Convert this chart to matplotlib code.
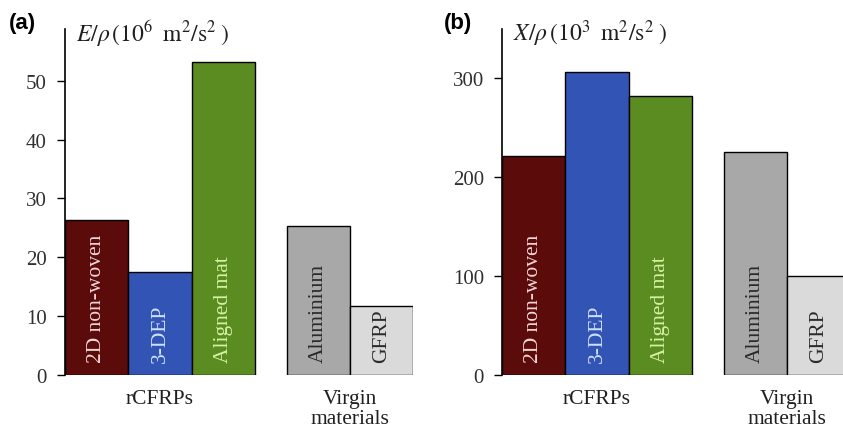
import matplotlib.pyplot as plt
from matplotlib.transforms import blended_transform_factory

plt.rcParams['font.family'] = 'Liberation Serif'
plt.rcParams['mathtext.fontset'] = 'stix'

# Data
materials = ['2D non-woven', '3-DEP', 'Aligned mat', 'Aluminium', 'GFRP']
positions = [0.5, 1.5, 2.5, 4.0, 5.0]
modulus = [26.3, 17.5, 53.2, 25.4, 11.7]      # E/rho, 10^6 m2/s2
strength = [222, 306, 282, 226, 100]         # X/rho, 10^3 m2/s2
groups = ['rCFRPs', 'Virgin\nmaterials']
group_pos = [1.5, 4.5]

bar_colors = ['#5c0b0b', '#3254b4', '#5b8c22', '#a8a8a8', '#dadada']
text_colors = ['#f2d6d6', '#cfe0ff', '#d6f2a4', '#2a2a2a', '#2a2a2a']

fig = plt.figure(figsize=(8.43, 4.35), dpi=100)
W, H = 843, 435
ax_a = fig.add_axes([65 / W, 59 / H, 348 / W, 346 / H])
ax_b = fig.add_axes([502 / W, 59 / H, 341 / W, 346 / H])


def draw(ax, values, ymax, ticks, ylabel, tag, tag_x, label_base):
    ax.bar(positions, values, width=1.0, color=bar_colors,
           edgecolor='black', linewidth=1.0)
    ax.set_xlim(0, ax.get_position().width * W / 63.3)
    ax.set_ylim(0, ymax)
    ax.set_yticks(ticks)
    ax.tick_params(axis='y', direction='out', length=6, width=1,
                   labelsize=15, pad=7, labelcolor='#303030')
    ax.set_xticks([])
    for s in ['top', 'right', 'bottom']:
        ax.spines[s].set_visible(False)
    ax.spines['left'].set_linewidth(1.2)

    for x, name, tc in zip(positions, materials, text_colors):
        ax.text(x, label_base, name, rotation=90, ha='center', va='bottom',
                color=tc, fontsize=15.5)

    tr = blended_transform_factory(ax.transData, ax.transAxes)
    for x, g in zip(group_pos, groups):
        ax.text(x, -0.04, g, transform=tr, ha='center', va='top',
                fontsize=15.5, linespacing=1.05, color='#202020')

    ax.text(0.18, 0.99, ylabel, transform=tr, ha='left', va='center',
            fontsize=17, color='#202020')
    fig.text(tag_x / W, 1 - 24 / H, tag, ha='left', va='center',
             fontsize=16, fontweight='bold', family='Liberation Sans')


draw(ax_a, modulus, 58.8, [0, 10, 20, 30, 40, 50],
     r'$E/\rho\,\left(10^6\;\;\mathrm{m^2/s^2}\;\right)$', '(a)', 9, 2.2)
draw(ax_b, strength, 350, [0, 100, 200, 300],
     r'$X/\rho\,\left(10^3\;\;\mathrm{m^2/s^2}\;\right)$', '(b)', 444, 13)

fig.savefig('out.png', dpi=100)
